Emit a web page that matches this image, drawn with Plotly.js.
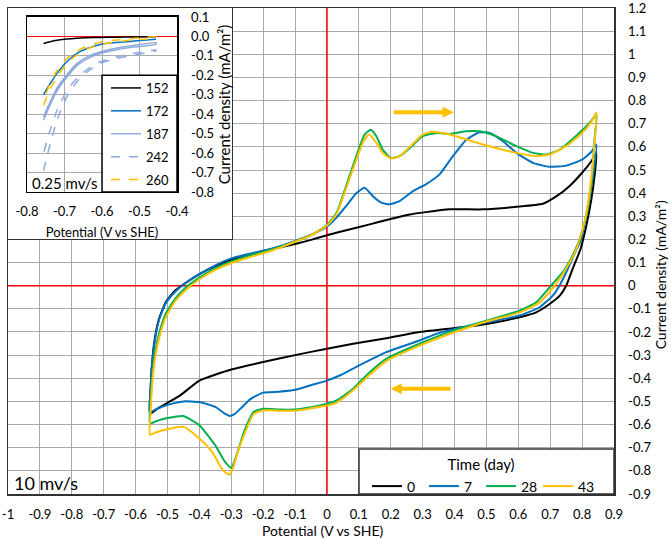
<!DOCTYPE html>
<html><head><meta charset="utf-8">
<script src="https://cdn.plot.ly/plotly-3.0.1.min.js"></script>
<style>html,body{margin:0;padding:0;background:#fff}#chart{width:671px;height:539px}</style>
</head><body><div id="chart"></div>
<script>
// ---------- main CV data (10 mV/s) : potential (V vs SHE), current density (mA/m2)
const day0_fwd_E = [-0.555,-0.553,-0.549,-0.542,-0.528,-0.505,-0.475,-0.44,-0.4,-0.35,-0.3,-0.25,-0.2,-0.15,-0.1,-0.05,0,0.07,0.134,0.196,0.26,0.31,0.385,0.489,0.594,0.677,0.72,0.76,0.8,0.83,0.845];
const day0_fwd_I = [-0.553,-0.45,-0.35,-0.25,-0.15,-0.07,-0.02,0.015,0.05,0.085,0.113,0.133,0.15,0.165,0.18,0.198,0.218,0.243,0.265,0.287,0.308,0.318,0.33,0.33,0.341,0.354,0.387,0.43,0.488,0.54,0.574];
const day0_rev_E = [0.839,0.829,0.813,0.795,0.77,0.75,0.73,0.698,0.656,0.604,0.5,0.395,0.29,0.186,0.082,0,-0.1,-0.2,-0.3,-0.4,-0.46,-0.5,-0.53,-0.555];
const day0_rev_I = [0.473,0.373,0.258,0.158,0.072,0,-0.043,-0.079,-0.115,-0.136,-0.165,-0.184,-0.2,-0.227,-0.251,-0.272,-0.30,-0.33,-0.362,-0.41,-0.474,-0.506,-0.53,-0.553];

const day7_fwd_E = [-0.555,-0.553,-0.549,-0.541,-0.527,-0.505,-0.475,-0.44,-0.4,-0.35,-0.3,-0.25,-0.2,-0.15,-0.1,-0.05,0,0.03,0.06,0.092,0.118,0.144,0.17,0.196,0.228,0.27,0.31,0.353,0.395,0.437,0.478,0.51,0.552,0.594,0.646,0.698,0.75,0.8,0.83,0.845];
const day7_fwd_I = [-0.546,-0.45,-0.35,-0.25,-0.15,-0.075,-0.025,0.015,0.05,0.088,0.118,0.136,0.151,0.17,0.194,0.22,0.255,0.294,0.344,0.40,0.423,0.387,0.359,0.352,0.366,0.409,0.438,0.481,0.56,0.631,0.663,0.66,0.624,0.574,0.531,0.514,0.519,0.545,0.58,0.61];
const day7_rev_E = [0.834,0.818,0.797,0.78,0.755,0.729,0.708,0.667,0.604,0.5,0.4,0.343,0.29,0.186,0.1,0.04,0,-0.05,-0.1,-0.15,-0.2,-0.24,-0.27,-0.29,-0.305,-0.32,-0.35,-0.4,-0.45,-0.5,-0.535,-0.555];
const day7_rev_I = [0.473,0.344,0.2,0.15,0.072,0,-0.043,-0.093,-0.129,-0.158,-0.187,-0.208,-0.237,-0.287,-0.345,-0.388,-0.41,-0.43,-0.45,-0.458,-0.462,-0.49,-0.53,-0.555,-0.563,-0.553,-0.524,-0.503,-0.5,-0.515,-0.533,-0.546];

const day28_fwd_E = [-0.555,-0.553,-0.548,-0.54,-0.525,-0.505,-0.475,-0.44,-0.4,-0.35,-0.3,-0.25,-0.2,-0.15,-0.1,-0.05,0,0.03,0.06,0.092,0.118,0.137,0.155,0.175,0.2,0.228,0.26,0.3,0.343,0.385,0.437,0.48,0.53,0.594,0.646,0.688,0.73,0.78,0.823,0.845];
const day28_fwd_I = [-0.596,-0.5,-0.4,-0.3,-0.2,-0.12,-0.055,-0.005,0.035,0.075,0.105,0.128,0.146,0.166,0.19,0.218,0.262,0.315,0.43,0.56,0.653,0.674,0.646,0.588,0.552,0.56,0.595,0.646,0.66,0.656,0.667,0.667,0.646,0.603,0.574,0.567,0.588,0.646,0.703,0.739];
const day28_rev_E = [0.839,0.829,0.813,0.792,0.77,0.74,0.71,0.698,0.656,0.604,0.5,0.395,0.29,0.186,0.134,0.082,0.03,0,-0.05,-0.1,-0.15,-0.2,-0.23,-0.26,-0.28,-0.3,-0.32,-0.35,-0.4,-0.45,-0.5,-0.535,-0.555];
const day28_rev_I = [0.631,0.445,0.30,0.20,0.13,0.06,0.012,-0.007,-0.072,-0.108,-0.151,-0.194,-0.251,-0.316,-0.374,-0.445,-0.496,-0.51,-0.525,-0.535,-0.535,-0.532,-0.546,-0.632,-0.718,-0.787,-0.76,-0.69,-0.603,-0.563,-0.572,-0.585,-0.596];

const day43_fwd_E = [-0.555,-0.553,-0.548,-0.54,-0.525,-0.505,-0.475,-0.44,-0.4,-0.35,-0.3,-0.25,-0.2,-0.15,-0.1,-0.05,0,0.03,0.06,0.092,0.115,0.132,0.155,0.175,0.2,0.228,0.26,0.3,0.327,0.364,0.405,0.489,0.594,0.656,0.698,0.75,0.8,0.83,0.845];
const day43_fwd_I = [-0.644,-0.55,-0.43,-0.32,-0.22,-0.135,-0.065,-0.015,0.028,0.068,0.098,0.12,0.14,0.163,0.19,0.218,0.26,0.31,0.42,0.545,0.625,0.653,0.617,0.574,0.55,0.56,0.60,0.653,0.664,0.66,0.646,0.61,0.574,0.56,0.567,0.603,0.66,0.71,0.749];
const day43_rev_E = [0.838,0.826,0.81,0.79,0.776,0.748,0.714,0.667,0.604,0.5,0.4,0.29,0.186,0.134,0.082,0.03,0,-0.05,-0.1,-0.15,-0.2,-0.23,-0.26,-0.28,-0.295,-0.305,-0.315,-0.33,-0.36,-0.4,-0.45,-0.5,-0.535,-0.555];
const day43_rev_I = [0.6,0.43,0.29,0.19,0.14,0.07,0,-0.072,-0.115,-0.155,-0.201,-0.259,-0.326,-0.385,-0.452,-0.506,-0.518,-0.53,-0.54,-0.54,-0.539,-0.555,-0.646,-0.72,-0.79,-0.816,-0.81,-0.79,-0.718,-0.66,-0.61,-0.62,-0.633,-0.644];

const mainNames = ['0','7','28','43'];
const mainColors = ['#000000','#0070C0','#00B050','#FFC000'];

// ---------- inset data (0.25 mV/s)
const inset_E = [-0.756,-0.738,-0.72,-0.694,-0.667,-0.64,-0.605,-0.56,-0.516,-0.456];
const inset152 = [-0.036,-0.027,-0.02,-0.013,-0.009,-0.007,-0.005,-0.004,-0.003,-0.001];
const inset172 = [-0.299,-0.242,-0.19,-0.13,-0.087,-0.062,-0.041,-0.031,-0.024,-0.015];
const inset187a = [-0.431,-0.35,-0.28,-0.21,-0.15,-0.115,-0.088,-0.068,-0.055,-0.04];
const inset187b = [-0.414,-0.335,-0.265,-0.198,-0.14,-0.105,-0.08,-0.06,-0.047,-0.032];
const inset242a = [-0.69,-0.551,-0.431,-0.311,-0.233,-0.182,-0.139,-0.113,-0.096,-0.074];
const inset242b = [-0.60,-0.48,-0.38,-0.28,-0.215,-0.17,-0.13,-0.105,-0.088,-0.07];
const inset260a = [-0.354,-0.27,-0.21,-0.14,-0.095,-0.065,-0.042,-0.028,-0.018,-0.008];
const inset260b = [-0.328,-0.24,-0.175,-0.115,-0.075,-0.05,-0.03,-0.018,-0.01,-0.002];

// ---------- ticks
const mainXTicks = [-1,-0.9,-0.8,-0.7,-0.6,-0.5,-0.4,-0.3,-0.2,-0.1,0,0.1,0.2,0.3,0.4,0.5,0.6,0.7,0.8,0.9];
const mainXLabels = ['-1','-0.9','-0.8','-0.7','-0.6','-0.5','-0.4','-0.3','-0.2','-0.1','0','0.1','0.2','0.3','0.4','0.5','0.6','0.7','0.8','0.9'];
const mainYTicks = [1.2,1.1,1,0.9,0.8,0.7,0.6,0.5,0.4,0.3,0.2,0.1,0,-0.1,-0.2,-0.3,-0.4,-0.5,-0.6,-0.7,-0.8,-0.9];
const mainYLabels = ['1.2','1.1','1','0.9','0.8','0.7','0.6','0.5','0.4','0.3','0.2','0.1','0','-0.1','-0.2','-0.3','-0.4','-0.5','-0.6','-0.7','-0.8','-0.9'];
const insetXTicks = [-0.8,-0.7,-0.6,-0.5,-0.4];
const insetXLabels = ['-0.8','-0.7','-0.6','-0.5','-0.4'];
const insetYTicks = [0.1,0,-0.1,-0.2,-0.3,-0.4,-0.5,-0.6,-0.7,-0.8];
const insetYLabels = ['0.1','0.0','-0.1','-0.2','-0.3','-0.4','-0.5','-0.6','-0.7','-0.8'];

const FONT = 'Lato, "Open Sans", sans-serif';
const GRID = '#a9a9a9';

const mainSets = [
  [day0_fwd_E, day0_fwd_I, day0_rev_E, day0_rev_I],
  [day7_fwd_E, day7_fwd_I, day7_rev_E, day7_rev_I],
  [day28_fwd_E, day28_fwd_I, day28_rev_E, day28_rev_I],
  [day43_fwd_E, day43_fwd_I, day43_rev_E, day43_rev_I]
];
const traces = [];
mainSets.forEach((s, i) => {
  traces.push({
    type: 'scatter', mode: 'lines', name: mainNames[i],
    x: s[0].concat(s[2]), y: s[1].concat(s[3]),
    xaxis: 'x', yaxis: 'y', legend: 'legend',
    line: {color: mainColors[i], width: 2, shape: 'spline', smoothing: 0.5},
    hoverinfo: 'skip'
  });
});
// dummy subplot for the inset frame
traces.push({type: 'scatter', mode: 'lines', x: [], y: [], xaxis: 'x2', yaxis: 'y2', showlegend: false, hoverinfo: 'skip'});

const loopX = inset_E.concat(inset_E.slice().reverse());
const insetTraces = [
  {name: '152', x: inset_E, y: inset152, color: '#000000', dash: 'solid'},
  {name: '172', x: inset_E, y: inset172, color: '#0070C0', dash: 'solid'},
  {name: '187', x: loopX, y: inset187a.concat(inset187b.slice().reverse()), color: '#8FAADC', dash: 'solid'},
  {name: '242', x: loopX, y: inset242a.concat(inset242b.slice().reverse()), color: '#8FAADC', dash: 'dash'},
  {name: '260', x: loopX, y: inset260a.concat(inset260b.slice().reverse()), color: '#FFC000', dash: 'dash'}
];
insetTraces.forEach((t, i) => {
  traces.push({
    type: 'scatter', mode: 'lines', name: t.name, x: t.x, y: t.y,
    xaxis: 'x3', yaxis: 'y3', legend: 'legend2', legendgroup: 'g' + i,
    line: {color: t.color, width: 1.5, dash: t.dash, shape: 'spline', smoothing: 0.6},
    hoverinfo: 'skip'
  });
});

const layout = {
  width: 671, height: 539,
  margin: {l: 8, r: 57, t: 8, b: 45, pad: 0},
  paper_bgcolor: '#ffffff', plot_bgcolor: '#ffffff',
  font: {family: FONT, size: 13, color: '#000'},
  showlegend: true,
  xaxis: {
    domain: [0, 1], anchor: 'y', range: [-1, 0.9], tickvals: mainXTicks, ticktext: mainXLabels,
    showgrid: true, gridcolor: GRID, gridwidth: 1, zeroline: false,
    showline: true, mirror: true, linecolor: '#333', linewidth: 1.5, ticks: '', ticklabelstandoff: 8,
    ticklabeloverflow: 'allow', tickfont: {size: 13}, fixedrange: true
  },
  yaxis: {
    domain: [0, 1], anchor: 'x', range: [-0.9001, 1.2001], side: 'right', tickvals: mainYTicks, ticktext: mainYLabels,
    showgrid: true, gridcolor: GRID, gridwidth: 1, zeroline: false,
    showline: true, mirror: true, linecolor: '#333', linewidth: 1.5, ticks: '', ticklabelstandoff: 10,
    ticklabeloverflow: 'allow', tickfont: {size: 13}, fixedrange: true
  },
  xaxis2: {domain: [0, 0.3696], anchor: 'y2', range: [0, 1], showgrid: false, zeroline: false, showticklabels: false,
    showline: true, mirror: true, linecolor: '#333', linewidth: 1.5, ticks: '', fixedrange: true},
  yaxis2: {domain: [0.5247, 1], anchor: 'x2', range: [0, 1], showgrid: false, zeroline: false, showticklabels: false,
    showline: true, mirror: true, linecolor: '#333', linewidth: 1.5, ticks: '', fixedrange: true},
  xaxis3: {
    domain: [0.0314, 0.2789], anchor: 'y3', range: [-0.8, -0.4], tickvals: insetXTicks, ticktext: insetXLabels,
    showgrid: true, gridcolor: GRID, zeroline: false, showline: true, mirror: true, linecolor: '#000', linewidth: 1.5,
    ticks: '', ticklabelstandoff: 7, tickfont: {size: 13}, fixedrange: true,
    title: {text: 'Potential (V vs SHE)', font: {size: 13}, standoff: 10}
  },
  yaxis3: {
    domain: [0.6214, 0.9815], anchor: 'x3', side: 'right', range: [-0.8, 0.1], tickvals: insetYTicks, ticktext: insetYLabels,
    showgrid: true, gridcolor: GRID, zeroline: true, zerolinecolor: '#ff0000', zerolinewidth: 1.5,
    showline: true, mirror: true, linecolor: '#000', linewidth: 1.5, ticks: '', ticklabelstandoff: 10,
    tickfont: {size: 13}, fixedrange: true,
    title: {text: 'Current density (mA/m²)', font: {size: 15}, standoff: 4}
  },
  legend: {
    orientation: 'h', x: 0.5924, xanchor: 'left', y: 0.0885, yanchor: 'top',
    bgcolor: 'rgba(0,0,0,0)', borderwidth: 0, font: {size: 14},
    title: {text: 'Time (day)', side: 'top center', font: {size: 15}},
    entrywidth: 12, entrywidthmode: 'pixels', itemwidth: 30
  },
  legend2: {
    orientation: 'v', x: 0.1617, xanchor: 'left', y: 0.8663, yanchor: 'top',
    bgcolor: 'rgba(0,0,0,0)', borderwidth: 0, font: {size: 13}, tracegroupgap: 3, itemwidth: 30
  },
  shapes: [
    // red reference lines at E = 0 and I = 0 (between grid and traces)
    {type: 'line', xref: 'x', yref: 'y', x0: 0, x1: 0, y0: -0.9, y1: 1.2, line: {color: '#ff0000', width: 1.5}, layer: 'between'},
    {type: 'line', xref: 'x', yref: 'y', x0: -1, x1: 0.9, y0: 0, y1: 0, line: {color: '#ff0000', width: 1.5}, layer: 'between'},
    {type: 'rect', xref: 'paper', yref: 'paper', x0: 0.5792, x1: 1, y0: 0, y1: 0.0926,
     fillcolor: '#ffffff', line: {color: '#333', width: 1.5}, layer: 'above'},
    {type: 'rect', xref: 'x3', yref: 'y3', x0: -0.6, x1: -0.4, y0: -0.8, y1: -0.2,
     fillcolor: '#ffffff', line: {color: '#000', width: 1.5}, layer: 'above'}
  ],
  annotations: [
    {xref: 'paper', yref: 'paper', x: 1.0765, y: 0.4506, text: 'Current density (mA/m²)', textangle: -90,
     showarrow: false, xanchor: 'center', yanchor: 'middle', font: {size: 14}},
    {xref: 'paper', yref: 'paper', x: 0.519, y: -0.076, text: 'Potential (V vs SHE)',
     showarrow: false, xanchor: 'center', yanchor: 'middle', font: {size: 14}},
    {xref: 'paper', yref: 'paper', x: 0.0066, y: 0.0226, text: '10 mv/s',
     showarrow: false, xanchor: 'left', yanchor: 'middle', font: {size: 18}},
    {xref: 'x3', yref: 'y3', x: -0.699, y: -0.756, text: '0.25 mv/s',
     showarrow: false, xanchor: 'center', yanchor: 'middle', font: {size: 15}},
    {xref: 'x', yref: 'y', axref: 'x', ayref: 'y', x: 0.397, y: 0.75, ax: 0.205, ay: 0.75, text: '',
     showarrow: true, arrowhead: 2, arrowsize: 0.55, arrowwidth: 4, arrowcolor: '#FFC000', standoff: 0},
    {xref: 'x', yref: 'y', axref: 'x', ayref: 'y', x: 0.2, y: -0.445, ax: 0.392, ay: -0.445, text: '',
     showarrow: true, arrowhead: 2, arrowsize: 0.55, arrowwidth: 4, arrowcolor: '#FFC000', standoff: 0}
  ]
};

Plotly.newPlot('chart', traces, layout, {displayModeBar: false, staticPlot: true});
</script></body></html>
